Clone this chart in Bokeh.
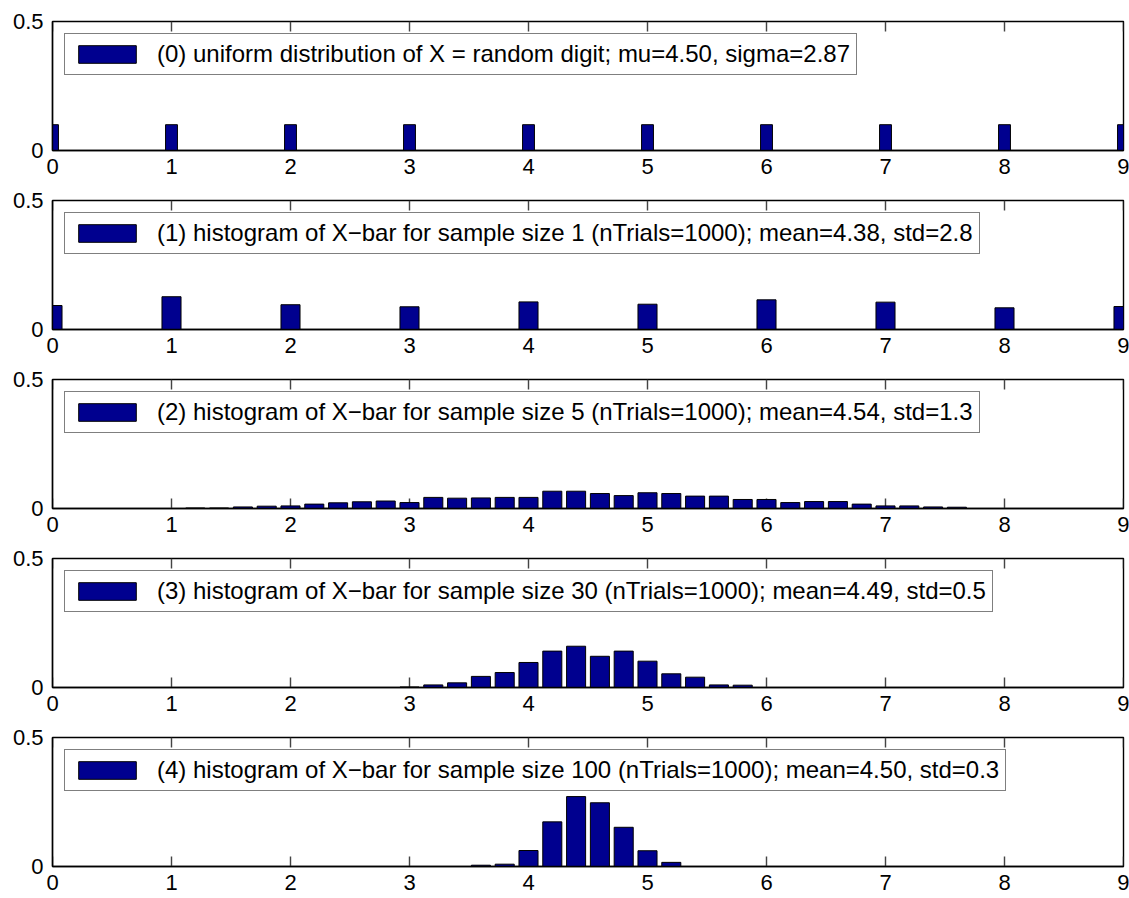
from bokeh.plotting import figure
from bokeh.models import (Range1d, FixedTicker, LinearAxis, Legend, LegendItem,
                          ColumnDataSource, GlobalInlineStyleSheet)
from bokeh.layouts import column
from bokeh.embed import file_html
from bokeh.resources import INLINE

# ---------------- data ----------------
x_ticks = [0, 1, 2, 3, 4, 5, 6, 7, 8, 9]
x_tick_labels = ["0", "1", "2", "3", "4", "5", "6", "7", "8", "9"]
y_ticks = [0, 0.5]
y_tick_labels = ["0", "0.5"]

p0_x = [0, 1, 2, 3, 4, 5, 6, 7, 8, 9]
p0_y = [0.1, 0.1, 0.1, 0.1, 0.1, 0.1, 0.1, 0.1, 0.1, 0.1]
p0_label = "(0) uniform distribution of X = random digit; mu=4.50, sigma=2.87"

p1_x = [0, 1, 2, 3, 4, 5, 6, 7, 8, 9]
p1_y = [0.093, 0.127, 0.096, 0.088, 0.107, 0.098, 0.115, 0.106, 0.084, 0.089]
p1_label = "(1) histogram of X\u2212bar for sample size 1 (nTrials=1000); mean=4.38, std=2.8"

p2_x = [1.2, 1.4, 1.6, 1.8, 2.0, 2.2, 2.4, 2.6, 2.8, 3.0, 3.2, 3.4, 3.6, 3.8, 4.0,
        4.2, 4.4, 4.6, 4.8, 5.0, 5.2, 5.4, 5.6, 5.8, 6.0, 6.2, 6.4, 6.6, 6.8, 7.0,
        7.2, 7.4, 7.6]
p2_y = [0.002, 0.002, 0.006, 0.009, 0.010, 0.017, 0.022, 0.026, 0.029, 0.023,
        0.043, 0.040, 0.041, 0.043, 0.043, 0.067, 0.067, 0.058, 0.050, 0.061,
        0.058, 0.048, 0.048, 0.035, 0.035, 0.023, 0.027, 0.027, 0.017, 0.010,
        0.010, 0.006, 0.005]
p2_label = "(2) histogram of X\u2212bar for sample size 5 (nTrials=1000); mean=4.54, std=1.3"

p3_x = [3.0, 3.2, 3.4, 3.6, 3.8, 4.0, 4.2, 4.4, 4.6, 4.8, 5.0, 5.2, 5.4, 5.6, 5.8]
p3_y = [0.002, 0.010, 0.018, 0.043, 0.058, 0.097, 0.141, 0.160, 0.121, 0.141,
        0.102, 0.053, 0.040, 0.010, 0.009]
p3_label = "(3) histogram of X\u2212bar for sample size 30 (nTrials=1000); mean=4.49, std=0.5"

p4_x = [3.6, 3.8, 4.0, 4.2, 4.4, 4.6, 4.8, 5.0, 5.2]
p4_y = [0.005, 0.009, 0.062, 0.173, 0.271, 0.247, 0.152, 0.061, 0.016]
p4_label = "(4) histogram of X\u2212bar for sample size 100 (nTrials=1000); mean=4.50, std=0.3"

# ---------------- style ----------------
FONT = "Liberation Sans"
BAR_FILL = "#00008F"
FRAME_W = 1071
FRAME_H = 129
LINE_W = 1.4
TICK_PX = 10
Y_MIN, Y_MAX = y_ticks[0], y_ticks[-1]


def make_panel(xs, ys, label, bar_width, top_border, bottom_border):
    p = figure(output_backend="svg", toolbar_location=None,
               frame_width=FRAME_W, frame_height=FRAME_H,
               min_border_left=52, min_border_right=6,
               min_border_top=top_border, min_border_bottom=bottom_border,
               x_range=Range1d(x_ticks[0], x_ticks[-1]), y_range=Range1d(Y_MIN, Y_MAX),
               x_axis_location=None, y_axis_location=None)
    p.grid.visible = False
    p.background_fill_color = "white"
    p.border_fill_color = "white"
    p.outline_line_color = "black"
    p.outline_line_width = LINE_W

    # inward tick marks along the top and bottom edges, drawn as short bars
    # (length converted from pixels to data units)
    tick_len = TICK_PX / FRAME_H * (Y_MAX - Y_MIN)
    n = len(x_ticks)
    tsrc = ColumnDataSource(dict(tx=x_ticks,
                                 tb0=[Y_MAX - tick_len] * n, tb1=[Y_MAX] * n,
                                 bb0=[Y_MIN] * n, bb1=[Y_MIN + tick_len] * n))
    p.vbar(x="tx", bottom="tb0", top="tb1", width=0.012, source=tsrc,
           fill_color="#444444", line_color=None)
    p.vbar(x="tx", bottom="bb0", top="bb1", width=0.012, source=tsrc,
           fill_color="#444444", line_color=None)

    src = ColumnDataSource(dict(x=xs, top=ys))
    r = p.vbar(x="x", top="top", width=bar_width, bottom=0, source=src,
               fill_color=BAR_FILL, line_color="black", line_width=1)

    xb = LinearAxis(ticker=FixedTicker(ticks=x_ticks),
                    major_label_overrides={t: s for t, s in zip(x_ticks, x_tick_labels)})
    yl = LinearAxis(ticker=FixedTicker(ticks=y_ticks),
                    major_label_overrides={t: s for t, s in zip(y_ticks, y_tick_labels)})
    for ax in (xb, yl):
        ax.axis_line_color = "black"
        ax.axis_line_width = LINE_W
        ax.major_tick_in = 0
        ax.major_tick_out = 0
        ax.major_tick_line_color = None
        ax.minor_tick_line_color = None
        ax.major_label_text_font = FONT
        ax.major_label_text_font_size = "22px"
        ax.major_label_text_color = "black"
    xb.major_label_standoff = 8
    yl.major_label_standoff = 9
    p.add_layout(xb, "below")
    p.add_layout(yl, "left")

    leg = Legend(items=[LegendItem(label=label, renderers=[r])],
                 location="top_left", margin=12, padding=6,
                 glyph_width=72, glyph_height=22, label_standoff=14,
                 spacing=0, label_height=24,
                 border_line_color="black", border_line_width=1.2,
                 background_fill_color="white", background_fill_alpha=1.0,
                 label_text_font=FONT, label_text_font_size="24px",
                 label_text_color="black")
    p.add_layout(leg)
    return p


panels = [
    make_panel(p0_x, p0_y, p0_label, 0.1, 21, 37),
    make_panel(p1_x, p1_y, p1_label, 0.16, 13, 37),
    make_panel(p2_x, p2_y, p2_label, 0.16, 13, 37),
    make_panel(p3_x, p3_y, p3_label, 0.16, 13, 37),
    make_panel(p4_x, p4_y, p4_label, 0.16, 13, 30),
]

layout = column(*panels, spacing=0,
                stylesheets=[GlobalInlineStyleSheet(css="html, body { overflow: hidden; }")])

open("out.html", "w").write(file_html(layout, INLINE))
